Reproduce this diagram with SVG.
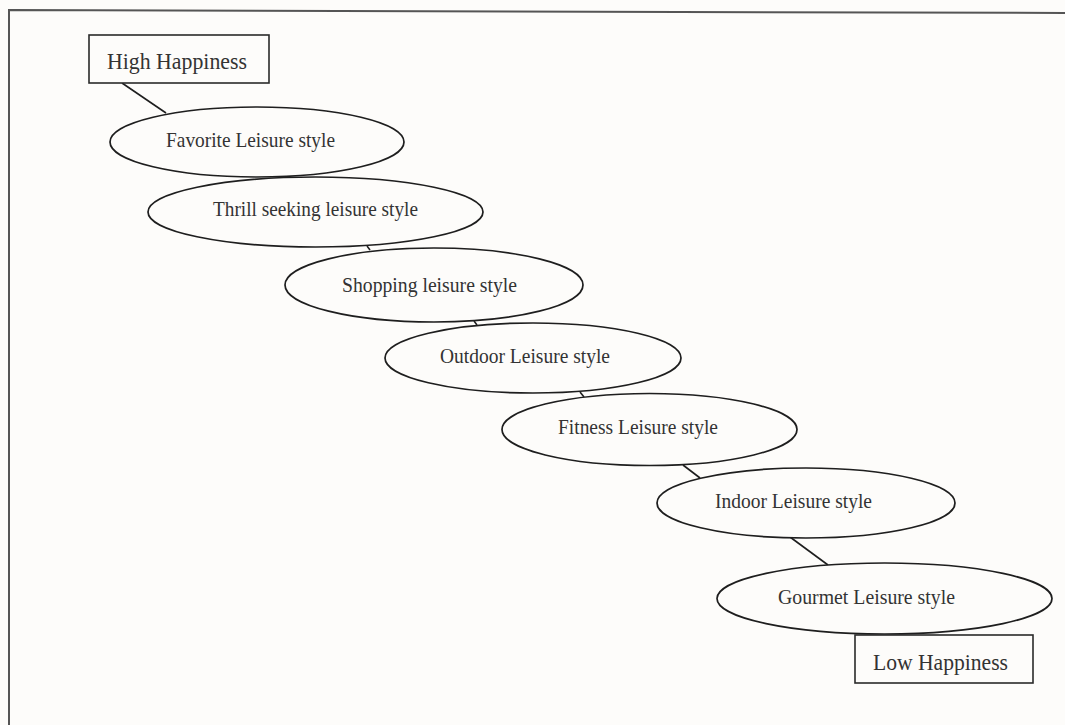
<svg xmlns="http://www.w3.org/2000/svg" width="1065" height="725" viewBox="0 0 1065 725">
<style>
.bg{fill:#fdfcfa}
.frame{stroke:#555;stroke-width:2;fill:none}
.box{fill:#fdfcfa;stroke:#2a2a2a;stroke-width:1.6}
.ell{fill:#fdfcfa;stroke:#1e1e1e;stroke-width:1.7}
.conn{stroke:#1e1e1e;stroke-width:1.6;fill:none}
.lbl{font-family:"Liberation Serif","Times New Roman",serif;fill:#333;text-anchor:middle}
.bl{font-size:24px}
.el{font-size:22px}
</style>
<rect class="bg" x="0" y="0" width="1065" height="725"/>
<path class="frame" d="M9,725 L9,10 L1065,13"/>
<g id="connectors">
<line class="conn" x1="122" y1="83" x2="166" y2="113"/>
<line class="conn" x1="367" y1="246" x2="370" y2="250"/>
<line class="conn" x1="474" y1="321" x2="477" y2="325"/>
<line class="conn" x1="580" y1="392" x2="584" y2="397"/>
<line class="conn" x1="683" y1="465" x2="700" y2="478"/>
<line class="conn" x1="790" y1="537" x2="828" y2="565"/>
</g>
<g id="high">
<rect class="box" x="89" y="35" width="180" height="48"/>
<text class="lbl bl" x="177" y="69" textLength="140" lengthAdjust="spacingAndGlyphs">High Happiness</text>
</g>
<g id="favorite">
<ellipse class="ell" cx="257" cy="142" rx="147" ry="35"/>
<text class="lbl el" x="250.5" y="147" textLength="169" lengthAdjust="spacingAndGlyphs">Favorite Leisure style</text>
</g>
<g id="thrill">
<ellipse class="ell" cx="315.5" cy="212" rx="167.5" ry="35"/>
<text class="lbl el" x="315.5" y="216" textLength="205" lengthAdjust="spacingAndGlyphs">Thrill seeking leisure style</text>
</g>
<g id="shopping">
<ellipse class="ell" cx="434" cy="285" rx="149" ry="37"/>
<text class="lbl el" x="429.5" y="292" textLength="175" lengthAdjust="spacingAndGlyphs">Shopping leisure style</text>
</g>
<g id="outdoor">
<ellipse class="ell" cx="533" cy="358" rx="148" ry="35"/>
<text class="lbl el" x="525" y="363" textLength="170" lengthAdjust="spacingAndGlyphs">Outdoor Leisure style</text>
</g>
<g id="fitness">
<ellipse class="ell" cx="649.5" cy="429.5" rx="147.5" ry="36"/>
<text class="lbl el" x="638" y="434" textLength="160" lengthAdjust="spacingAndGlyphs">Fitness Leisure style</text>
</g>
<g id="indoor">
<ellipse class="ell" cx="806" cy="503" rx="149" ry="35"/>
<text class="lbl el" x="793.5" y="508" textLength="157" lengthAdjust="spacingAndGlyphs">Indoor Leisure style</text>
</g>
<g id="gourmet">
<ellipse class="ell" cx="884.5" cy="598.5" rx="167.5" ry="35.5"/>
<text class="lbl el" x="866.5" y="604" textLength="177" lengthAdjust="spacingAndGlyphs">Gourmet Leisure style</text>
</g>
<g id="low">
<rect class="box" x="855" y="635" width="178" height="48"/>
<text class="lbl bl" x="940.5" y="670" textLength="135" lengthAdjust="spacingAndGlyphs">Low Happiness</text>
</g>
</svg>
